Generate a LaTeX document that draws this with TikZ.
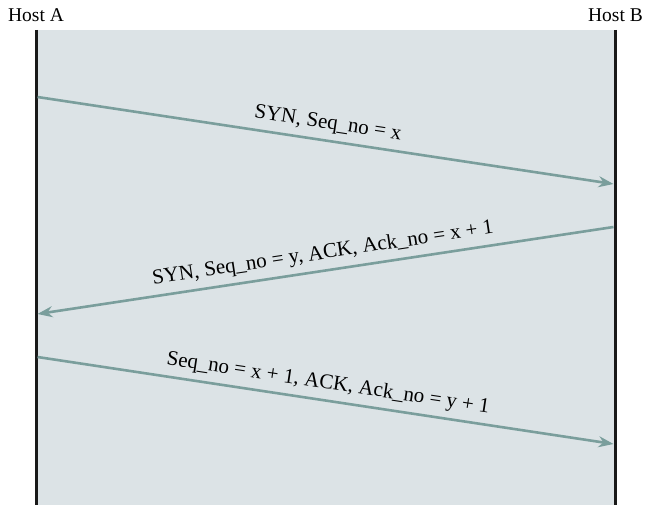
\documentclass[tikz,border=0pt]{standalone}
\usepackage{fontspec}
\setmainfont{Liberation Serif}
\usetikzlibrary{arrows.meta}
\definecolor{bgfill}{HTML}{DCE3E6}
\definecolor{msgcol}{HTML}{7A9E9C}
\begin{document}
\begin{tikzpicture}[x=1pt,y=-1pt,
  hostline/.style={line width=3pt,black!90},
  msg/.style={line width=2.6pt,msgcol,-{Stealth[length=15pt,width=11pt]}},
  lbl/.style={font=\fontsize{21}{24}\selectfont,inner sep=0pt,sloped,above=6pt,midway},
  hostlbl/.style={font=\fontsize{19.5}{22}\selectfont,inner sep=0pt}]
\useasboundingbox (0,0) rectangle (647,505);
\fill[bgfill] (36,30) rectangle (615,505);
\coordinate (At) at (36,30);
\coordinate (Ab) at (36,505);
\coordinate (Bt) at (615,30);
\coordinate (Bb) at (615,505);
\draw[hostline] (At) -- (Ab);
\draw[hostline] (Bt) -- (Bb);
\node[hostlbl] (hA) at (36,15) {Host A};
\node[hostlbl] (hB) at (615.5,15) {Host B};
\coordinate (a1) at (37.5,97);
\coordinate (b1) at (613.5,184);
\coordinate (b2) at (613.5,227);
\coordinate (a2) at (37.5,314);
\coordinate (a3) at (37.5,357);
\coordinate (b3) at (613.5,444);
\draw[msg] (a1) -- (b1) node[lbl,pos=0.5,text=black] {SYN, Seq\_no = x};
\draw[msg] (b2) -- (a2) node[lbl,pos=0.5,text=black] {SYN, Seq\_no = y, ACK, Ack\_no = x + 1};
\draw[msg] (a3) -- (b3) node[lbl,pos=0.5,text=black] {Seq\_no = x + 1, ACK, Ack\_no = y + 1};
\end{tikzpicture}
\end{document}
